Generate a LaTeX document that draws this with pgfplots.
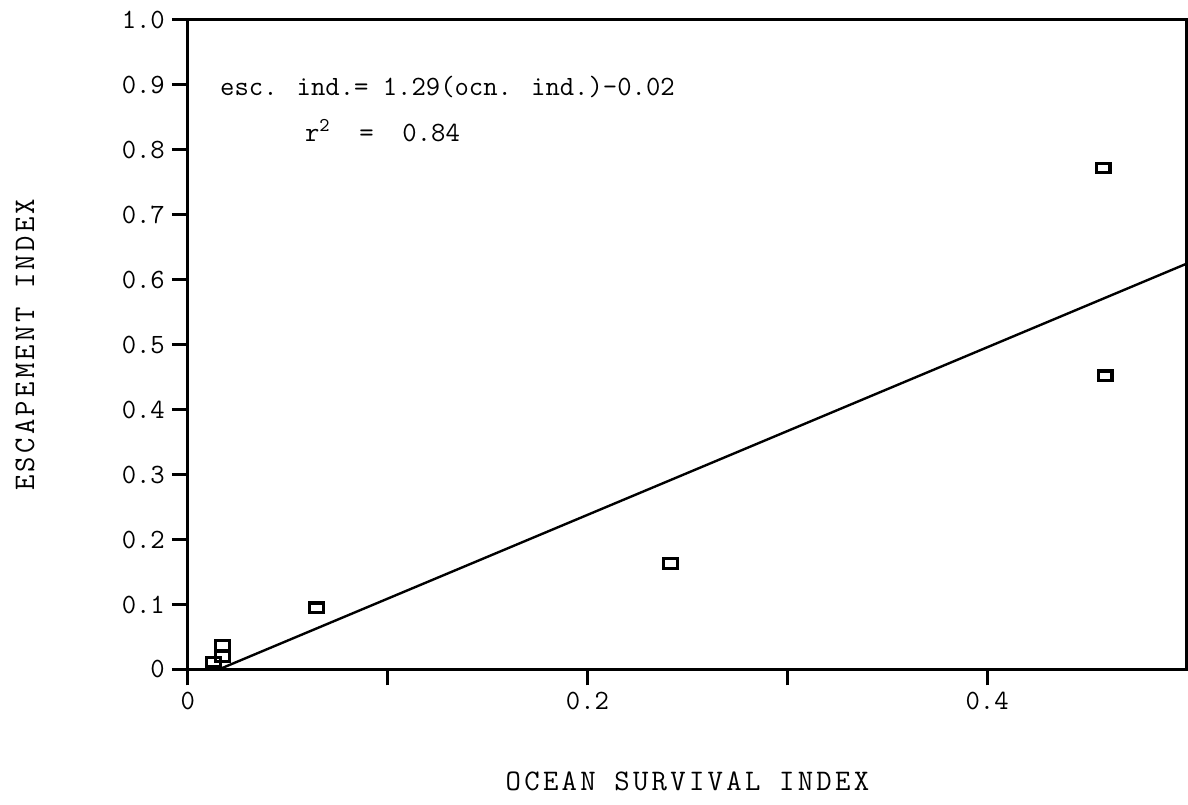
\documentclass[border=0pt]{standalone}
\usepackage{fontspec}
\usepackage{pgfplots}
\pgfplotsset{compat=1.18}
\renewcommand{\familydefault}{\ttdefault}
\newfontfamily\labfont[LetterSpace=11]{Latin Modern Mono}
\begin{document}
\begin{tikzpicture}
\path[use as bounding box] (-94bp,-67.5bp) rectangle (500.5bp,335bp);
\begin{axis}[
  at={(0,0)}, anchor=south west,
  scale only axis, width=500bp, height=325bp,
  xmin=0, xmax=0.5, ymin=0, ymax=1.0,
  axis line style={line width=1.5bp},
  tick align=outside, xtick pos=left, ytick pos=left,
  major tick length=8bp,
  tick style={line width=1.5bp, black},
  xtick={0,0.1,0.2,0.3,0.4},
  xticklabels={0,,0.2,,0.4},
  ytick={0,0.1,0.2,0.3,0.4,0.5,0.6,0.7,0.8,0.9,1.0},
  yticklabels={0,0.1,0.2,0.3,0.4,0.5,0.6,0.7,0.8,0.9,1.0},
  /pgf/number format/assume math mode=true,
  tick label style={font=\fontsize{14}{16}\selectfont},
  label style={font=\labfont\fontsize{15}{17}\selectfont},
  xlabel={OCEAN SURVIVAL INDEX},
  ylabel={ESCAPEMENT INDEX},
  xlabel style={at={(axis description cs:0.5,-0.172)}, anchor=center},
  ylabel style={at={(axis description cs:-0.163,0.5)}, anchor=center},
  clip=false,
]
\addplot[line width=1.2bp, black] coordinates {(0.0155,0) (0.5,0.625)};
\addplot[only marks, mark=square, mark size=2.4bp,
  mark options={xscale=1.45, line width=1.6bp, black}] coordinates {
  (0.013,0.011) (0.0175,0.020) (0.0175,0.037) (0.0645,0.095)
  (0.2415,0.163) (0.458,0.772) (0.459,0.452)};
\node[anchor=west, inner sep=0pt, font=\fontsize{14}{16}\selectfont] at (axis cs:0.016,0.897) {esc. ind.= 1.29(ocn. ind.)-0.02};
\node[anchor=west, inner sep=0pt, font=\fontsize{14}{16}\selectfont] at (axis cs:0.0585,0.83) {r\textsuperscript{2}\ \ =\ \ 0.84};
\end{axis}
\end{tikzpicture}
\end{document}
